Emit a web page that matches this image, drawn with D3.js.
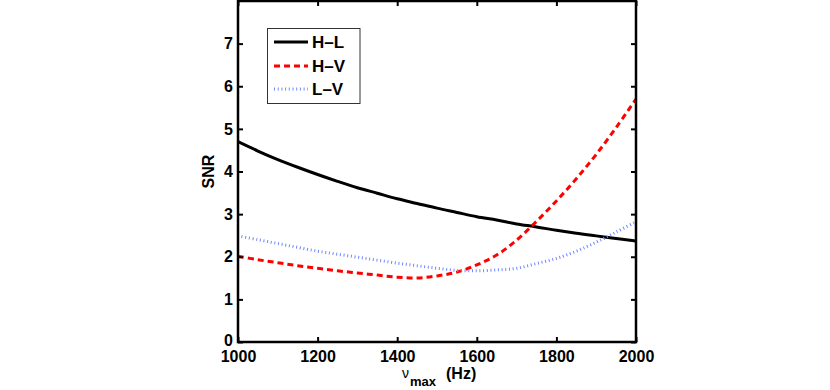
<!DOCTYPE html>
<html>
<head>
<meta charset="utf-8">
<script src="https://cdn.jsdelivr.net/npm/d3@7"></script>
<style>
  body { margin: 0; background: #fff; }
  text { font-family: "Liberation Sans", Arial, sans-serif; font-weight: bold; }
</style>
</head>
<body>
<script>
// SNR vs nu_max for three detector pairs

const freqs = [1000, 1050, 1100, 1150, 1200, 1250, 1300, 1350, 1400, 1450, 1500,
               1550, 1600, 1650, 1700, 1750, 1800, 1850, 1900, 1950, 2000];
const snrHL = [4.70, 4.48, 4.28, 4.10, 3.93, 3.77, 3.62, 3.49, 3.36, 3.25, 3.14,
               3.04, 2.94, 2.86, 2.77, 2.70, 2.62, 2.55, 2.49, 2.43, 2.37];
const snrHV = [2.01, 1.93, 1.86, 1.79, 1.73, 1.67, 1.62, 1.57, 1.52, 1.50, 1.55,
               1.64, 1.81, 2.04, 2.39, 2.83, 3.31, 3.83, 4.40, 5.03, 5.70];
const snrLV = [2.49, 2.40, 2.31, 2.22, 2.13, 2.06, 1.99, 1.92, 1.85, 1.79, 1.73,
               1.68, 1.67, 1.69, 1.73, 1.84, 1.96, 2.13, 2.34, 2.58, 2.82];
const seriesNames = ['H–L', 'H–V', 'L–V'];
const xTickVals = [1000, 1200, 1400, 1600, 1800, 2000];
const yTickVals = [0, 1, 2, 3, 4, 5, 6, 7];

const svgWidth = 830;
const svgHeight = 390;
const pLeft = 238, pRight = 636, pTop = 1, pBottom = 342;

const xScale = d3.scaleLinear().domain([1000, 2000]).range([pLeft, pRight]);
const yScale = d3.scaleLinear().domain([0, 8]).range([pBottom, pTop]);

const svg = d3.select('body').append('svg')
  .attr('width', svgWidth)
  .attr('height', svgHeight);

const styles = [
  { color: '#000', width: 3, dash: null },
  { color: '#ff0000', width: 3, dash: '6,4' },
  { color: '#6f88ff', width: 3, dash: '1,2.7' }
];
const allSeries = [snrHL, snrHV, snrLV];

const line = d3.line()
  .x((d, i) => xScale(freqs[i]))
  .y(d => yScale(d))
  .curve(d3.curveCatmullRom);

svg.append('clipPath').attr('id', 'plotclip')
  .append('rect').attr('x', pLeft).attr('y', pTop)
  .attr('width', pRight - pLeft).attr('height', pBottom - pTop);

svg.append('g').attr('clip-path', 'url(#plotclip)')
  .selectAll('path')
  .data(allSeries)
  .enter()
  .append('path')
  .attr('d', d => line(d))
  .attr('fill', 'none')
  .attr('stroke', (d, i) => styles[i].color)
  .attr('stroke-width', (d, i) => styles[i].width)
  .attr('stroke-dasharray', (d, i) => styles[i].dash);

// axes (ticks inward, mirrored on top/right)
const tickLen = 5;
const xBottom = d3.axisBottom(xScale).tickValues(xTickVals).tickSize(-tickLen).tickPadding(8.5).tickFormat(d3.format('d'));
const xTop = d3.axisTop(xScale).tickValues(xTickVals).tickSize(-tickLen).tickFormat('');
const yLeft = d3.axisLeft(yScale).tickValues(yTickVals).tickSize(-tickLen).tickPadding(5);
const yRight = d3.axisRight(yScale).tickValues(yTickVals).tickSize(-tickLen).tickFormat('');

function styleAxis(g) {
  g.select('.domain').remove();
  g.selectAll('.tick line').attr('stroke', '#000').attr('stroke-width', 2);
  g.selectAll('.tick text').attr('fill', '#000').style('font-size', '16px');
}

svg.append('g').attr('transform', `translate(0,${pBottom})`).call(xBottom).call(styleAxis);
svg.append('g').attr('transform', `translate(0,${pTop})`).call(xTop).call(styleAxis);
const yAxisG = svg.append('g').attr('transform', `translate(${pLeft},0)`).call(yLeft).call(styleAxis);
yAxisG.selectAll('.tick text').filter(d => d === 0).attr('dy', '0.2em');
svg.append('g').attr('transform', `translate(${pRight},0)`).call(yRight).call(styleAxis);

svg.append('rect')
  .attr('x', pLeft).attr('y', pTop)
  .attr('width', pRight - pLeft).attr('height', pBottom - pTop)
  .attr('fill', 'none').attr('stroke', '#000').attr('stroke-width', 2.5);

// axis labels
svg.append('text')
  .attr('transform', `translate(214,${(pTop + pBottom) / 2}) rotate(-90)`)
  .attr('text-anchor', 'middle')
  .style('font-size', '16px')
  .text('SNR');

const xl = svg.append('text')
  .attr('x', 402)
  .attr('y', 378)
  .style('font-size', '14px');
xl.append('tspan').style('font-weight', 'normal').text('ν');
xl.append('tspan').attr('dx', 1).attr('dy', 8).style('font-size', '13px').text('max');

svg.append('text')
  .attr('x', 446)
  .attr('y', 379)
  .style('font-size', '16px')
  .text('(Hz)');

// legend
const legend = svg.append('g');
legend.append('rect')
  .attr('x', 267.5).attr('y', 28.5)
  .attr('width', 92.5).attr('height', 75)
  .attr('fill', '#fff').attr('stroke', '#333').attr('stroke-width', 1);

const legendY = [42, 66, 89];
seriesNames.forEach((name, i) => {
  legend.append('line')
    .attr('x1', 274).attr('x2', 308)
    .attr('y1', legendY[i]).attr('y2', legendY[i])
    .attr('stroke', styles[i].color)
    .attr('stroke-width', styles[i].width)
    .attr('stroke-dasharray', styles[i].dash);
  legend.append('text')
    .attr('x', 312).attr('y', legendY[i] + 6)
    .style('font-size', '17px')
    .text(name);
});
</script>
</body>
</html>
